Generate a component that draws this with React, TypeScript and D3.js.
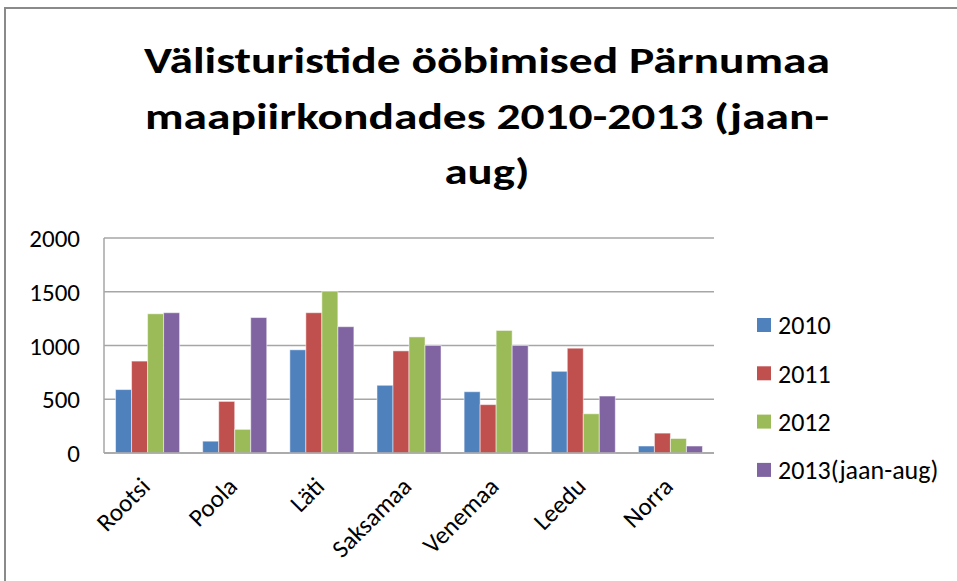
import React from 'react'
import * as d3 from 'd3'

// countries on the x axis
const categories = ['Rootsi', 'Poola', 'Läti', 'Saksamaa', 'Venemaa', 'Leedu', 'Norra']
const seriesNames = ['2010', '2011', '2012', '2013(jaan-aug)']
const colors = ['#4F81BD', '#C0504D', '#9BBB59', '#8064A2']

// values, one array per year
const v2010 = [590, 110, 960, 630, 570, 760, 65]
const v2011 = [855, 480, 1305, 950, 450, 975, 185]
const v2012 = [1295, 220, 1505, 1080, 1140, 365, 135]
const v2013 = [1305, 1260, 1175, 1000, 1000, 530, 65]
const seriesValues = [v2010, v2011, v2012, v2013]

const yTicks = [0, 500, 1000, 1500, 2000]
const titleLines = ['Välisturistide ööbimised Pärnumaa', 'maapiirkondades 2010-2013 (jaan-', 'aug)']

const W = 957
const H = 581
const FONT = 'Carlito, Calibri, Lato, sans-serif'

const plot = { left: 104, right: 714, top: 238, bottom: 453 }

export default function App() {
  const x0 = d3.scaleBand().domain(categories).range([plot.left, plot.right]).padding(0)
  const bw = x0.bandwidth()
  const groupW = bw * 0.735
  const x1 = d3
    .scaleBand()
    .domain(seriesNames)
    .range([(bw - groupW) / 2, (bw + groupW) / 2])
    .padding(0)
  const y = d3.scaleLinear().domain([0, 2000]).range([plot.bottom, plot.top])

  const titleWidths = [686, 684, 85]
  const titleBase = [73, 129, 184]

  return (
    <svg width={W} height={H} style={{ display: 'block', position: 'absolute', left: 0, top: 0, background: '#fff' }}>
      {/* outer frame */}
      <line x1={4} y1={8} x2={W} y2={8} stroke="#8a8a8a" strokeWidth={2} />
      <line x1={5} y1={8} x2={5} y2={H} stroke="#8a8a8a" strokeWidth={2} />

      {/* title */}
      {titleLines.map((t, i) => (
        <text
          key={t}
          x={487}
          y={titleBase[i]}
          textAnchor="middle"
          fontFamily={FONT}
          fontWeight="bold"
          fontSize={36}
          textLength={titleWidths[i]}
          lengthAdjust="spacingAndGlyphs"
          fill="#000"
        >
          {t}
        </text>
      ))}

      {/* gridlines */}
      {yTicks.map(t => (
        <line key={t} x1={plot.left} x2={plot.right} y1={y(t)} y2={y(t)} stroke="#a6a6a6" strokeWidth={1.5} />
      ))}
      <line x1={plot.left} x2={plot.left} y1={plot.top} y2={plot.bottom} stroke="#a6a6a6" strokeWidth={1.5} />

      {/* y tick labels */}
      {yTicks.map(t => (
        <text key={t} x={80} y={y(t)} dy="0.36em" textAnchor="end" fontFamily={FONT} fontSize={25} fill="#000">
          {t}
        </text>
      ))}

      {/* bars */}
      {categories.map((c, ci) => (
        <g key={c} transform={`translate(${x0(c)},0)`}>
          {seriesNames.map((s, si) => {
            const v = seriesValues[si][ci]
            return (
              <rect
                key={s}
                x={x1(s)}
                y={y(v)}
                width={x1.bandwidth()}
                height={y(0) - y(v)}
                fill={colors[si]}
                stroke="#ffffff"
                strokeOpacity={0.5}
                strokeWidth={1}
              />
            )
          })}
        </g>
      ))}

      {/* x axis line */}
      <line x1={plot.left} x2={plot.right} y1={plot.bottom} y2={plot.bottom} stroke="#a6a6a6" strokeWidth={1.5} />

      {/* category labels */}
      {categories.map(c => (
        <text
          key={c}
          transform={`translate(${x0(c)! + bw / 2 + 4},488) rotate(-45)`}
          textAnchor="end"
          fontFamily={FONT}
          fontSize={25}
          fill="#000"
        >
          {c}
        </text>
      ))}

      {/* legend */}
      {seriesNames.map((s, i) => (
        <g key={s} transform={`translate(757,${325 + i * 48.3})`}>
          <rect x={0} y={-7} width={14} height={14} fill={colors[i]} />
          <text x={21} y={0} dy="0.36em" fontFamily={FONT} fontSize={26} fill="#000">
            {s}
          </text>
        </g>
      ))}
    </svg>
  )
}
